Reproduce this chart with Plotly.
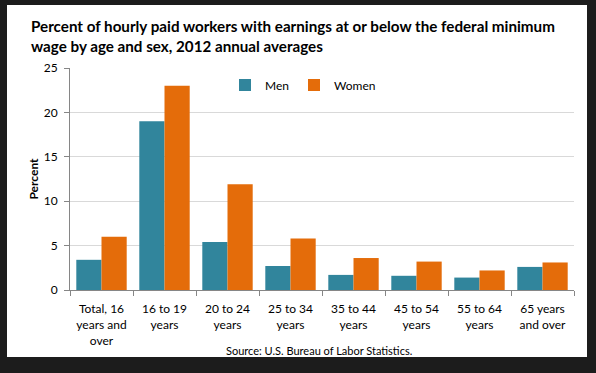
import plotly.graph_objects as go

categories = ["Total, 16<br>years and<br>over", "16 to 19<br>years", "20 to 24<br>years", "25 to 34<br>years",
              "35 to 44<br>years", "45 to 54<br>years", "55 to 64<br>years", "65 years<br>and over"]
men = [3.4, 19.0, 5.4, 2.7, 1.7, 1.6, 1.4, 2.6]
women = [6.0, 23.0, 11.9, 5.8, 3.6, 3.2, 2.2, 3.1]
y_ticks = [0, 5, 10, 15, 20, 25]

FONT = "Lato"
DARK = "#1c1c1c"
fig = go.Figure()
fig.add_trace(go.Bar(x=categories, y=men, name="Men", marker_color="#31859C", marker_line_width=0))
fig.add_trace(go.Bar(x=categories, y=women, name="Women", marker_color="#E46C0A", marker_line_width=0))

L, R, T, B = 70, 22, 68, 83
W, H = 596, 373
pw, ph = W - L - R, H - T - B

def px_x(px):
    return (px - L) / pw

def px_y(py):
    return (H - B - py) / ph

fig.add_shape(type="rect", xref="paper", yref="paper", x0=px_x(7), x1=px_x(587), y0=px_y(357), y1=px_y(5),
              fillcolor="white", line_width=0, layer="below")

fig.update_layout(
    width=W, height=H,
    margin=dict(l=L, r=R, t=T, b=B),
    paper_bgcolor=DARK, plot_bgcolor="white",
    barmode="group", bargap=0.2, bargroupgap=0,
    font=dict(family=FONT, size=12, color="#000000"),
    title=dict(text="<b>Percent of hourly paid workers with earnings at or below the federal minimum<br>wage by age and sex, 2012 annual averages</b>",
               x=31 / W, xanchor="left", y=1 - 32 / H, yanchor="top", font=dict(family=FONT, size=15.2, color="#000")),
    legend=dict(orientation="h", x=px_x(225), y=px_y(85), xanchor="left", yanchor="middle",
                font=dict(family=FONT, size=12), bgcolor="rgba(0,0,0,0)", itemwidth=30,
                tracegroupgap=0),
    xaxis=dict(showline=True, linecolor="#868686", linewidth=1, ticks="outside", tickson="boundaries",
               ticklen=5, tickcolor="#868686", tickfont=dict(family=FONT, size=12), showgrid=False,
               ticklabelstandoff=8),
    yaxis=dict(range=[0, 25], tickvals=y_ticks, showline=True, linecolor="#868686", linewidth=1,
               ticks="outside", ticklen=5, tickcolor="#868686", showgrid=True, gridcolor="#d9d9d9",
               tickfont=dict(family=FONT, size=12), zeroline=False, ticklabelstandoff=4,
               title=dict(text="<b>Percent</b>", font=dict(family=FONT, size=12), standoff=2)),
    annotations=[dict(text="Source: U.S. Bureau of Labor Statistics.", xref="paper", yref="paper",
                      x=px_x(319), y=px_y(350), xanchor="center", yanchor="middle", showarrow=False,
                      font=dict(family=FONT, size=11, color="#000"))],
)
fig.write_html("out.html", config={"displayModeBar": False},
               post_script=f"document.body.style.margin='0';document.body.style.background='{DARK}';"
                           f"document.documentElement.style.background='{DARK}';")
